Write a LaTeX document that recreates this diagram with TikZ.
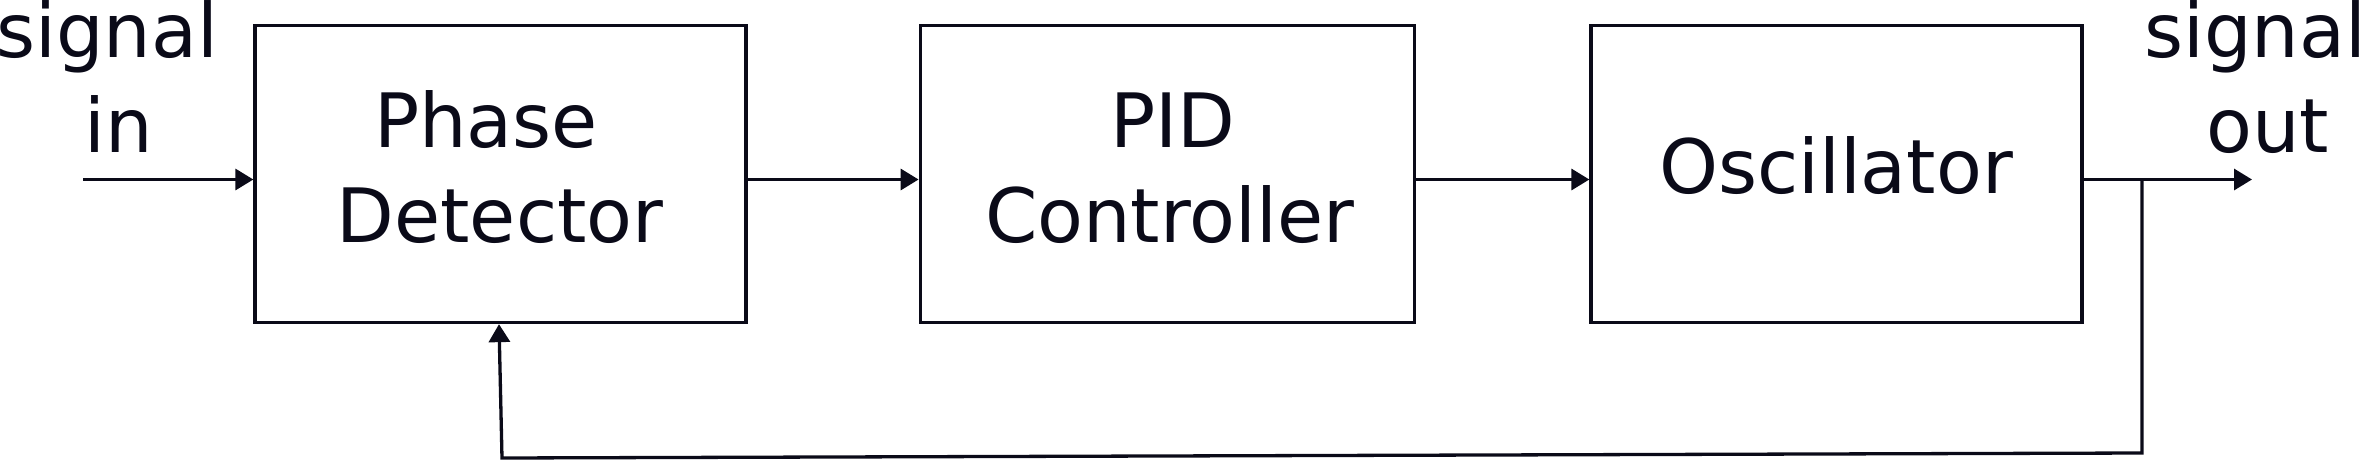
\documentclass[tikz,border=0pt]{standalone}
\usepackage{fontspec}
\setmainfont{DejaVu Sans}
\usetikzlibrary{arrows.meta}
\definecolor{ink}{HTML}{0A0A18}
\begin{document}
\begin{tikzpicture}[x=1pt,y=-1pt,
  box/.style={draw=ink, line width=3.3pt, minimum width=491pt, minimum height=297pt, inner sep=0pt},
  lbl/.style={text=ink, font=\fontsize{75}{95}\selectfont, inner sep=0pt, anchor=base},
  conn/.style={draw=ink, line width=3.3pt, -{Triangle[length=18pt,width=21pt]}},
  wire/.style={draw=ink, line width=3.3pt}]
\useasboundingbox (0,0) rectangle (2366,461);
% blocks
\node[box] (pd) at (500.5,174) {};
\node[box, minimum width=494pt] (pid) at (1167.25,174) {};
\node[box] (osc) at (1836.5,174) {};
% block texts
\node[lbl] (pdA) at (486,147.5) {Phase};
\node[lbl] (pdB) at (500,242) {Detector};
\node[lbl] (pidA) at (1173,147.5) {PID};
\node[lbl] (pidB) at (1169.5,242) {Controller};
\node[lbl] (oscA) at (1836,193) {Oscillator};
% signal labels
\node[lbl, anchor=base west] (sinA) at (-4,57) {signal};
\node[lbl, anchor=base west] (sinB) at (84,152) {in};
\node[lbl, anchor=base west] (soutA) at (2144,57) {signal};
\node[lbl, anchor=base west] (soutB) at (2206,152) {out};
% connector points
\coordinate (inp) at (83,179.5);
\coordinate (outend) at (2252,179.5);
\coordinate (br) at (2142,179.5);
\coordinate (fbr) at (2142,453);
\coordinate (fbl) at (502,458);
% connectors
\draw[conn] (inp) -- (inp -| pd.west);
\draw[conn] (pd.east |- inp) -- (pid.west |- inp);
\draw[conn] (pid.east |- inp) -- (osc.west |- inp);
\draw[conn] (osc.east |- inp) -- (outend);
\draw[conn, line join=miter] (br) -- (fbr) -- (fbl) -- ([xshift=-1.5pt]pd.south);
\end{tikzpicture}
\end{document}
